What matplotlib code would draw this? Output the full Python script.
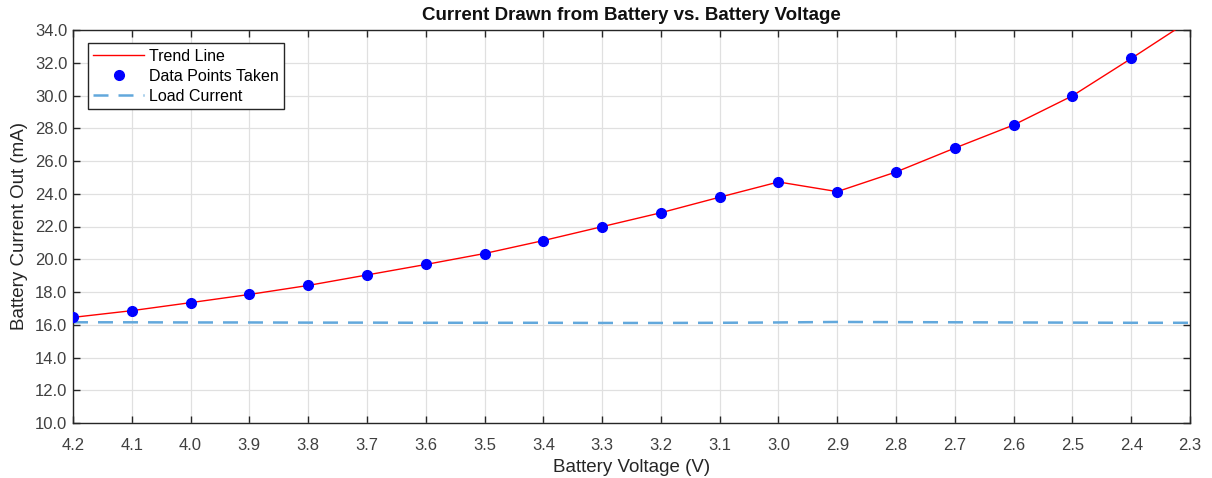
import matplotlib
matplotlib.use("Agg")
import matplotlib.pyplot as plt
import numpy as np

plt.rcParams['font.family'] = ['Liberation Sans', 'DejaVu Sans']

# Measured battery voltage sweep (V) and the current drawn from the battery (mA)
voltage = [4.2, 4.1, 4.0, 3.9, 3.8, 3.7, 3.6, 3.5, 3.4, 3.3, 3.2, 3.1, 3.0, 2.9, 2.8, 2.7, 2.6, 2.5, 2.4]
current = [16.45, 16.86, 17.35, 17.85, 18.40, 19.04, 19.68, 20.35, 21.14, 21.99, 22.84, 23.79, 24.72, 24.13, 25.33, 26.79, 28.20, 29.98, 32.26]

# Trend line continues one step past the last measurement
trend_voltage = voltage + [2.3]
trend_current = current + [34.6]

# Load current at each voltage step (mA)
load_current = [16.15, 16.15, 16.14, 16.14, 16.13, 16.13, 16.12, 16.12, 16.12, 16.11, 16.11, 16.12, 16.14, 16.17, 16.16, 16.15, 16.14, 16.13, 16.12, 16.12]

x_ticks = [4.2, 4.1, 4.0, 3.9, 3.8, 3.7, 3.6, 3.5, 3.4, 3.3, 3.2, 3.1, 3.0, 2.9, 2.8, 2.7, 2.6, 2.5, 2.4, 2.3]
y_ticks = [10, 12, 14, 16, 18, 20, 22, 24, 26, 28, 30, 32, 34]

fig = plt.figure(figsize=(12.12, 4.78), dpi=100)
ax = fig.add_axes([73 / 1212, 55 / 478, (1190 - 73) / 1212, (423 - 30) / 478])

ax.plot(trend_voltage, trend_current, color='#FF0000', lw=1.0, label='Trend Line', zorder=3)
ax.plot(voltage, current, 'o', color='#0000FF', ms=7, label='Data Points Taken', zorder=4)
ax.plot(trend_voltage, load_current, '--', color='#62A8DC', lw=1.8, dashes=(6, 4), label='Load Current', zorder=2)

ax.set_xlim(4.2, 2.3)
ax.set_ylim(10, 34)
ax.set_xticks(x_ticks)
ax.set_xticklabels([f'{v:.1f}' for v in x_ticks])
ax.set_yticks(y_ticks)
ax.set_yticklabels([f'{v:.1f}' for v in y_ticks])

tick_color = '#404040'
ax.tick_params(direction='in', top=True, right=True, length=5, width=1.0,
               colors='#262626', labelcolor=tick_color, labelsize=12)
ax.tick_params(axis='x', pad=11)
ax.tick_params(axis='y', pad=4)
for s in ax.spines.values():
    s.set_color('#262626')
    s.set_linewidth(1.0)

ax.grid(True, color='#E0E0E0', lw=0.9)
ax.set_axisbelow(True)

ax.set_xlabel('Battery Voltage (V)', fontsize=13.5, color='#262626', labelpad=4)
ax.set_ylabel('Battery Current Out (mA)', fontsize=13.5, color='#262626', labelpad=5)
ax.set_title('Current Drawn from Battery vs. Battery Voltage', fontsize=13.5, fontweight='bold',
             color='#111111', pad=7)

leg = ax.legend(loc='upper left', bbox_to_anchor=(0.013, 0.966), fontsize=11.5, frameon=True,
                fancybox=False, edgecolor='#262626', framealpha=1, borderpad=0.35,
                labelspacing=0.3, handlelength=3.2, handletextpad=0.3, borderaxespad=0)
leg.get_frame().set_linewidth(1.0)

fig.savefig('out.png', dpi=100)
